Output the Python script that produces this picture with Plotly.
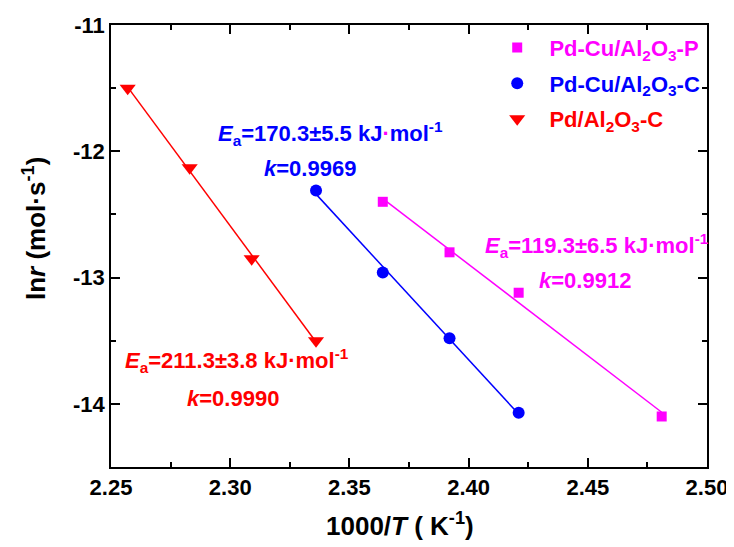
import numpy as np
import plotly.graph_objects as go

# Data (1000/T in K^-1, ln r)
x_p = [2.364, 2.392, 2.421, 2.481]
y_p = [-12.40, -12.80, -13.12, -14.10]
x_c = [2.336, 2.364, 2.392, 2.421]
y_c = [-12.31, -12.96, -13.48, -14.07]
x_r = [2.257, 2.283, 2.309, 2.336]
y_r = [-11.50, -12.13, -12.85, -13.50]

y_tickvals = [-11, -12, -13, -14]
y_ticktext = ["-11", "-12", "-13", "-14"]

names = ["Pd-Cu/Al<sub>2</sub>O<sub>3</sub>-P",
         "Pd-Cu/Al<sub>2</sub>O<sub>3</sub>-C",
         "Pd/Al<sub>2</sub>O<sub>3</sub>-C"]
colors = ["#FF00FF", "#0000FF", "#FF0000"]
symbols = ["square", "circle", "triangle-down"]
sizes = [10, 12, 14]

ea_texts = ["119.3±6.5", "170.3±5.5", "211.3±3.8"]
k_texts = ["0.9912", "0.9969", "0.9990"]

FONT = "Liberation Sans, Arial"

fig = go.Figure()
series = [(x_p, y_p), (x_c, y_c), (x_r, y_r)]
for (xs, ys), c in zip(series, colors):
    a, b = np.polyfit(xs, ys, 1)
    xf = [min(xs), max(xs)]
    fig.add_trace(go.Scatter(x=xf, y=[a * v + b for v in xf], mode="lines",
                             line=dict(color=c, width=1.5), showlegend=False,
                             hoverinfo="skip"))
for i, ((xs, ys), c, s, sz, n) in enumerate(zip(series, colors, symbols, sizes, names)):
    fig.add_trace(go.Scatter(x=xs, y=ys, mode="markers",
                             marker=dict(color=c, symbol=s, size=sz),
                             legendgroup=f"g{i}",
                             name=f'<span style="color:{c}">&nbsp;&nbsp;{n}</span>'))

# annotation positions (data coords)
ann_pos = [((2.4539, -12.746), (2.4488, -13.024)),
           ((2.3419, -11.857), (2.3335, -12.135)),
           ((2.3029, -13.659), (2.3012, -13.960))]
for (pe, pk), c, ea, kk in zip(ann_pos, colors, ea_texts, k_texts):
    dot_color = "#FF00FF" if c == "#0000FF" else c
    fig.add_annotation(x=pe[0], y=pe[1], xref="x", yref="y", showarrow=False,
                       xanchor="center", yanchor="middle",
                       text=f'<i>E</i><sub>a</sub>={ea} kJ<span style="color:{dot_color}">·</span>mol<sup>-1</sup>',
                       font=dict(color=c, size=22, family=FONT, weight="bold"))
    fig.add_annotation(x=pk[0], y=pk[1], xref="x", yref="y", showarrow=False,
                       xanchor="center", yanchor="middle",
                       text=f'<i>k</i>={kk}',
                       font=dict(color=c, size=22, family=FONT, weight="bold"))

# axis titles
fig.add_annotation(x=-0.1275, y=0.5385, xref="paper", yref="paper", showarrow=False,
                   xanchor="center", yanchor="middle",
                   textangle=-90, text="ln<i>r</i> (mol·s<sup>-1</sup>)",
                   font=dict(size=26, family=FONT, color="black", weight="bold"))
fig.add_annotation(x=0.4849, y=-0.129, xref="paper", yref="paper", showarrow=False,
                   xanchor="center", yanchor="middle",
                   text="1000/<i>T</i> ( K<sup>-1</sup>)",
                   font=dict(size=26, family=FONT, color="black", weight="bold"))

axis_common = dict(showline=True, linecolor="black", linewidth=1.5, mirror="allticks",
                   ticks="inside", ticklen=9, tickwidth=1.5, tickcolor="black",
                   showgrid=False, zeroline=False, automargin=False,
                   tickfont=dict(size=22, family=FONT, color="black", weight="bold"))

# page body has an 8px margin, so the figure is sized to fit the 734x547 window
fig.update_layout(
    width=726, height=539,
    margin=dict(l=103, r=27, t=17, b=80),
    paper_bgcolor="white", plot_bgcolor="white",
    font=dict(family=FONT, color="black"),
    xaxis=dict(range=[2.25, 2.50], dtick=0.05, tick0=2.25, tickformat=".2f",
               minor=dict(ticks="inside", ticklen=5, dtick=0.025, tickcolor="black", tickwidth=1.5),
               **axis_common),
    yaxis=dict(range=[-14.5, -11], tickmode="array", tickvals=y_tickvals, ticktext=y_ticktext,
               minor=dict(ticks="inside", ticklen=5, dtick=0.5, tick0=-11, tickcolor="black", tickwidth=1.5),
               **axis_common),
    legend=dict(x=0.648, y=0.996, xanchor="left", yanchor="top",
                bgcolor="rgba(0,0,0,0)", borderwidth=0,
                font=dict(size=22, family=FONT, weight="bold"),
                traceorder="grouped", tracegroupgap=4),
)

fig.write_html("out.html")
